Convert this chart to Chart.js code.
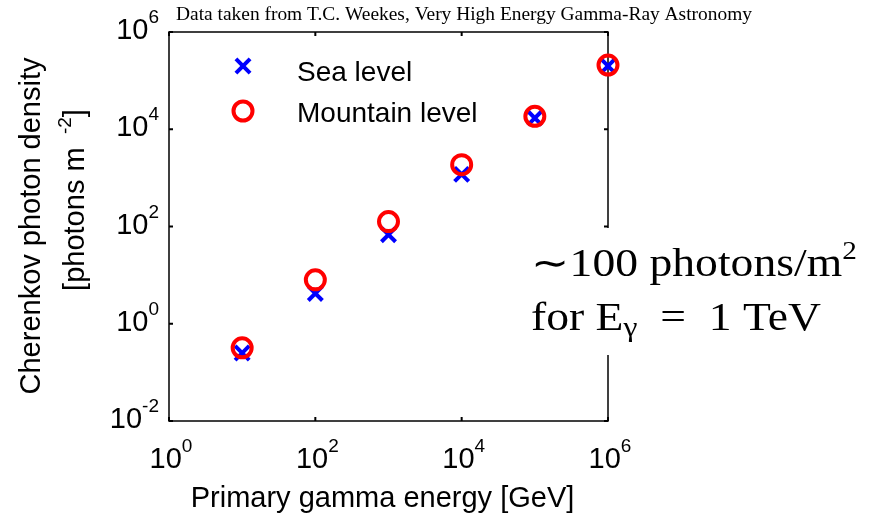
<!DOCTYPE html>
<html>
<head>
<meta charset="utf-8">
<script src="https://cdn.jsdelivr.net/npm/chart.js@4"></script>
<style>
  html, body { margin: 0; padding: 0; background: #fff; }
  #wrap { width: 876px; height: 516px; position: relative; }
</style>
</head>
<body>
<div id="wrap"><canvas id="chart"></canvas></div>
<script>
// primary gamma energy [GeV]
const energies = [10, 100, 1000, 10000, 100000, 1000000];
// Cherenkov photon density [photons m^-2]
const seaLevel = [0.25, 4.2, 68, 1180, 17000, 200000];
const mountainLevel = [0.32, 8, 126, 1870, 18500, 209000];
const seriesLabels = ['Sea level', 'Mountain level'];
const xTickExponents = [0, 2, 4, 6];
const yTickExponents = [-2, 0, 2, 4, 6];

const SANS = '"Liberation Sans", Arial, sans-serif';
const SERIF = '"Liberation Serif", "Times New Roman", serif';

function toPoints(ys) {
    return energies.map((x, i) => ({ x: x, y: ys[i] }));
}

// box + inward ticks, drawn under the markers
const framePlugin = {
    id: 'frame',
    beforeDatasetsDraw(chart) {
        const { ctx, chartArea: a, scales } = chart;
        ctx.save();
        ctx.strokeStyle = '#000';
        ctx.lineWidth = 1.5;
        ctx.strokeRect(a.left, a.top, a.right - a.left, a.bottom - a.top);
        ctx.lineWidth = 2;
        const len = 4;
        ctx.beginPath();
        xTickExponents.forEach(e => {
            const px = scales.x.getPixelForValue(Math.pow(10, e));
            ctx.moveTo(px, a.bottom); ctx.lineTo(px, a.bottom - len);
            ctx.moveTo(px, a.top); ctx.lineTo(px, a.top + len);
        });
        yTickExponents.forEach(e => {
            const py = scales.y.getPixelForValue(Math.pow(10, e));
            ctx.moveTo(a.left, py); ctx.lineTo(a.left + len, py);
            ctx.moveTo(a.right, py); ctx.lineTo(a.right - len, py);
        });
        ctx.stroke();
        ctx.restore();
    }
};

// draws text in pieces: [text, fontSize, dy]
function drawRuns(ctx, runs, family, x, y, sx) {
    let cx = x;
    runs.forEach(r => {
        ctx.font = r[1] + 'px ' + family;
        ctx.save();
        ctx.translate(cx, y + r[2]);
        ctx.scale(sx, 1);
        ctx.fillText(r[0], 0, 0);
        ctx.restore();
        cx += ctx.measureText(r[0]).width * sx;
    });
    return cx - x;
}

const textPlugin = {
    id: 'texts',
    afterDraw(chart) {
        const { ctx, chartArea: a, scales } = chart;
        ctx.save();
        ctx.fillStyle = '#000';
        ctx.textBaseline = 'alphabetic';
        ctx.textAlign = 'left';

        // x tick labels 10^n
        xTickExponents.forEach(e => {
            const px = scales.x.getPixelForValue(Math.pow(10, e));
            ctx.font = '29px ' + SANS;
            const w10 = ctx.measureText('10').width;
            ctx.font = '19px ' + SANS;
            const wExp = ctx.measureText(String(e)).width;
            const x0 = px + 2 - (w10 + wExp) / 2;
            ctx.font = '29px ' + SANS;
            ctx.fillText('10', x0, a.bottom + 47);
            ctx.font = '19px ' + SANS;
            ctx.fillText(String(e), x0 + w10, a.bottom + 31);
        });

        // y tick labels 10^n
        yTickExponents.forEach(e => {
            const py = scales.y.getPixelForValue(Math.pow(10, e));
            ctx.font = '19px ' + SANS;
            const wExp = ctx.measureText(String(e)).width;
            ctx.fillText(String(e), 159 - wExp, py - 9);
            ctx.font = '29px ' + SANS;
            const w10 = ctx.measureText('10').width;
            ctx.fillText('10', 159 - wExp - w10, py + 7);
        });

        // axis titles
        ctx.font = '29px ' + SANS;
        ctx.textAlign = 'center';
        ctx.fillText('Primary gamma energy [GeV]', (a.left + a.right) / 2 - 6, 507);

        ctx.save();
        ctx.translate(40, 226);
        ctx.rotate(-Math.PI / 2);
        ctx.fillText('Cherenkov photon density', 0, 0);
        ctx.restore();

        ctx.save();
        ctx.translate(84, 200);
        ctx.rotate(-Math.PI / 2);
        ctx.textAlign = 'left';
        const yRuns = [['[photons m ', 29, 0], [' -2', 19, -13], [']', 29, 0]];
        ctx.globalAlpha = 0;
        const yw = drawRuns(ctx, yRuns, SANS, 0, 0, 1);
        ctx.globalAlpha = 1;
        drawRuns(ctx, yRuns, SANS, -yw / 2, 0, 1);
        ctx.restore();

        // legend
        const ds = chart.data.datasets;
        const legendY = [66, 111];
        const textY = [81, 122];
        ds.forEach((d, i) => {
            ctx.save();
            ctx.strokeStyle = d.borderColor;
            ctx.fillStyle = 'rgba(0,0,0,0)';
            ctx.lineWidth = d.borderWidth;
            Chart.helpers.drawPoint(ctx, { pointStyle: d.pointStyle, radius: d.pointRadius, rotation: 0, borderWidth: d.borderWidth }, 243, legendY[i]);
            ctx.restore();
            ctx.font = '28px ' + SANS;
            ctx.textAlign = 'left';
            ctx.fillStyle = '#000';
            ctx.fillText(seriesLabels[i], 297, textY[i]);
        });

        // caption on top, fitted to its width
        ctx.save();
        ctx.font = '18px ' + SERIF;
        const cap = 'Data taken from T.C. Weekes, Very High Energy Gamma-Ray Astronomy';
        const cw = ctx.measureText(cap).width;
        ctx.translate(176, 20);
        ctx.scale(576 / cw, 1);
        ctx.textAlign = 'left';
        ctx.fillText(cap, 0, 0);
        ctx.restore();

        // annotation with white background over the right axis
        ctx.fillStyle = '#fff';
        ctx.fillRect(524, 228, 352, 127);
        ctx.fillStyle = '#000';
        ctx.textAlign = 'left';
        const sx = 1.17;
        drawRuns(ctx, [['\u223C100 photons/m', 39, 0], ['2', 25, -17]], SERIF, 531, 276, sx);
        drawRuns(ctx, [['for E', 39, 0], ['\u03B3', 27, 6], ['  =  1 TeV', 39, 0]], SERIF, 531, 330, sx);
        ctx.restore();
    }
};

const ctx = document.getElementById('chart').getContext('2d');

new Chart(ctx, {
    type: 'scatter',
    data: {
        datasets: [{
            label: seriesLabels[0],
            data: toPoints(seaLevel),
            pointStyle: 'crossRot',
            pointRadius: 10,
            borderColor: '#0000ff',
            backgroundColor: '#0000ff',
            borderWidth: 4,
            order: 2,
            clip: false
        }, {
            label: seriesLabels[1],
            data: toPoints(mountainLevel),
            pointStyle: 'circle',
            pointRadius: 9.5,
            borderColor: '#ff0000',
            backgroundColor: 'rgba(0,0,0,0)',
            borderWidth: 4,
            order: 1,
            clip: false
        }]
    },
    options: {
        responsive: true,
        maintainAspectRatio: false,
        animation: false,
        events: [],
        layout: { padding: { left: 169, right: 268, top: 32, bottom: 95 } },
        scales: {
            x: { type: 'logarithmic', min: 1, max: 1e6, display: false },
            y: { type: 'logarithmic', min: 0.01, max: 1e6, display: false }
        },
        plugins: {
            legend: { display: false },
            tooltip: { enabled: false }
        }
    },
    plugins: [framePlugin, textPlugin]
});
</script>
</body>
</html>
